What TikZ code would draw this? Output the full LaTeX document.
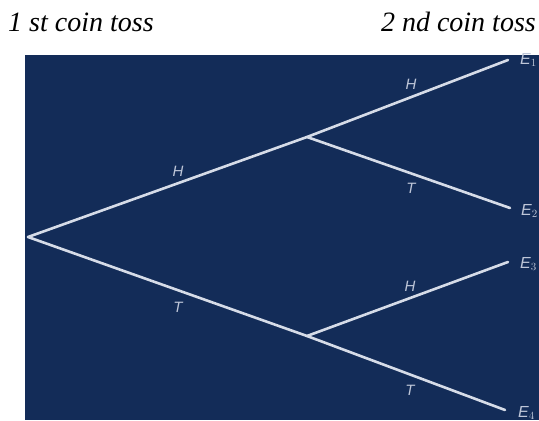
\documentclass[tikz,border=0pt]{standalone}
\usepackage{fontspec}
\setmainfont{Liberation Serif}
\newfontfamily\labelfont{Liberation Sans}
\begin{document}
\begin{tikzpicture}[x=1pt,y=1pt,
  branch/.style={draw=linecol,line width=2.6pt,line cap=round},
  toss/.style={font=\fontsize{28}{31}\selectfont\itshape,inner sep=0pt},
  lbl/.style={text=labelcol,font=\labelfont\fontsize{15}{17}\selectfont\slshape,inner sep=0pt},
  outcome/.style={text=labelcol,font=\labelfont\fontsize{16}{18}\selectfont\slshape,inner sep=0pt,anchor=west}]
\definecolor{boardcol}{RGB}{19,44,88}
\definecolor{linecol}{RGB}{214,220,232}
\definecolor{labelcol}{RGB}{190,198,216}
\useasboundingbox (0,0) rectangle (539,421);
\clip (0,0) rectangle (539,421);
% headings
\node[toss,anchor=west] (first) at (8,399) {1 st coin toss};
\node[toss,anchor=east] (second) at (536,399) {2 nd coin toss};
% board
\fill[boardcol] (25,1) rectangle (545,366);
% tree points
\coordinate (root) at (28,184);
\coordinate (up) at (307,284);
\coordinate (down) at (307,85);
\coordinate (e1) at (508,361);
\coordinate (e2) at (510,213);
\coordinate (e3) at (508,159);
\coordinate (e4) at (505,11);
% branches
\draw[branch] (root) -- (up);
\draw[branch] (root) -- (down);
\draw[branch] (up) -- (e1);
\draw[branch] (up) -- (e2);
\draw[branch] (down) -- (e3);
\draw[branch] (down) -- (e4);
% branch labels
\node[lbl] (h0) at (178,250) {H};
\node[lbl] (t0) at (178,114) {T};
\node[lbl] (h1) at (411,337) {H};
\node[lbl] (t1) at (411,233) {T};
\node[lbl] (h2) at (410,135) {H};
\node[lbl] (t2) at (410,31) {T};
% outcomes
\node[outcome] (o1) at (520,361) {E$_1$};
\node[outcome] (o2) at (521,210) {E$_2$};
\node[outcome] (o3) at (520,157) {E$_3$};
\node[outcome] (o4) at (518,8) {E$_4$};
\end{tikzpicture}
\end{document}
